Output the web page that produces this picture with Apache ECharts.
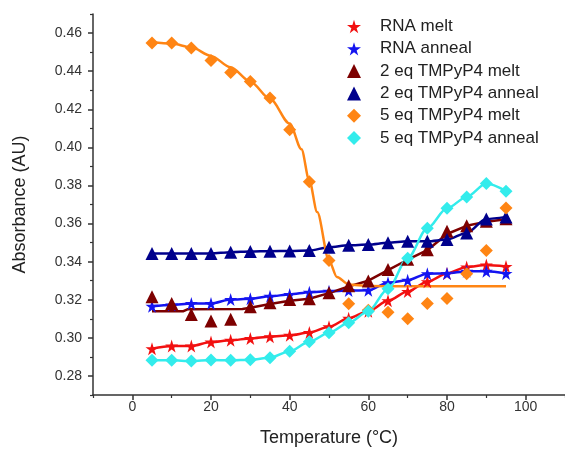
<!DOCTYPE html>
<html>
<head>
<meta charset="utf-8">
<script src="https://cdn.jsdelivr.net/npm/echarts@6/dist/echarts.min.js"></script>
<style>html,body{margin:0;padding:0;background:#fff}#c{width:565px;height:452px}</style>
</head>
<body>
<div id="c"></div>
<script>
const temps = [5,10,15,20,25,30,35,40,45,50,55,60,65,70,75,80,85,90,95];
const rnaMelt = [0.2943,0.2957,0.2957,0.2978,0.2987,0.2997,0.3006,0.3013,0.3028,0.3058,0.3103,0.3140,0.3195,0.3243,0.3295,0.3338,0.3372,0.3383,0.3375];
const rnaAnneal = [0.3166,0.3172,0.3180,0.3180,0.3201,0.3205,0.3218,0.3228,0.3240,0.3245,0.3248,0.3250,0.3289,0.3303,0.3337,0.3338,0.3350,0.3350,0.3338];
const eq2Melt = [0.3216,0.3180,0.3123,0.3088,0.3097,0.3163,0.3184,0.3201,0.3205,0.3237,0.3273,0.3299,0.3359,0.3413,0.3462,0.3560,0.3589,0.3612,0.3625];
const eq2Anneal = [0.3443,0.3443,0.3443,0.3443,0.3450,0.3453,0.3455,0.3456,0.3458,0.3476,0.3486,0.3490,0.3499,0.3507,0.3507,0.3516,0.3551,0.3624,0.3635];
const eq5Melt = [0.4548,0.4548,0.4521,0.4456,0.4393,0.4346,0.4259,0.4093,0.3819,0.3406,0.3179,0.3145,0.3135,0.3100,0.3180,0.3207,0.3337,0.3458,0.3682];
const eq5Anneal = [0.2882,0.2882,0.2878,0.2884,0.2882,0.2885,0.2896,0.2930,0.2980,0.3027,0.3079,0.3140,0.3258,0.3418,0.3575,0.3680,0.3740,0.3810,0.3770];

const eq2MeltFitT = [5,13,14,28,30,35,40,45,50,55,60,65,70,75,80,85,90,95];
const eq2MeltFit = [0.3140,0.3140,0.3150,0.3152,0.3158,0.3178,0.3195,0.3205,0.3235,0.3270,0.3300,0.3355,0.3410,0.3460,0.3545,0.3588,0.3610,0.3622];
const eq5MeltFitT = [5,10,15,20,25,30,35,40,43,45,47,50,52,55,60,70,80,95];
const eq5MeltFit = [0.4552,0.4545,0.4525,0.4480,0.4420,0.4345,0.4255,0.4125,0.3990,0.3825,0.3660,0.3406,0.3320,0.3280,0.3272,0.3271,0.3271,0.3271];

const seriesNames = ['RNA melt','RNA anneal','2 eq TMPyP4 melt','2 eq TMPyP4 anneal','5 eq TMPyP4 melt','5 eq TMPyP4 anneal'];
const yMajor = [0.28,0.30,0.32,0.34,0.36,0.38,0.40,0.42,0.44,0.46];
const yMinor = [0.27,0.29,0.31,0.33,0.35,0.37,0.39,0.41,0.43,0.45,0.47];
const xMajor = [0,20,40,60,80,100];
const xMinor = [-10,10,30,50,70,90,110];

const STAR = 'path://M50,0 L61,35 L98,35 L68,57 L79,91 L50,70 L21,91 L32,57 L2,35 L39,35 Z';
const colors = ['#f21010','#1414f0','#7d0000','#00008c','#ff8514','#33ecec'];
const symbols = [STAR, STAR, 'triangle','triangle','diamond','diamond'];
const sizes = [13,13,13,13,13,13];
const values = [rnaMelt, rnaAnneal, eq2Melt, eq2Anneal, eq5Melt, eq5Anneal];

const pair = (xs, ys) => xs.map((x,i)=>[x, ys[i]]);
const FONT = 'Arial, "Liberation Sans", sans-serif';

const series = [];
const fitData = [
  pair(temps, rnaMelt),
  pair(temps, rnaAnneal),
  pair(eq2MeltFitT, eq2MeltFit),
  pair(temps, eq2Anneal),
  pair(eq5MeltFitT, eq5MeltFit),
  pair(temps, eq5Anneal)
];
fitData.forEach((d,i)=>{
  series.push({
    name: seriesNames[i] + ' fit', type:'line', data:d, showSymbol:false, symbol:'none',
    smooth: i===2 ? false : 0.3, smoothMonotone: 'x',
    lineStyle:{color:colors[i], width:2.5}, z:2, silent:true
  });
});
values.forEach((v,i)=>{
  series.push({
    name: seriesNames[i], type:'scatter', data: pair(temps, v),
    symbol: symbols[i], symbolSize: sizes[i],
    itemStyle:{color:colors[i], opacity:1}, z:3
  });
});

const chart = echarts.init(document.getElementById('c'), null, {renderer:'canvas'});
chart.setOption({
  animation:false,
  backgroundColor:'#fff',
  grid:{left:93, right:0, top:14, bottom:56},
  legend:{
    orient:'vertical', left:347, top:18, padding:0, itemGap:5.3,
    itemWidth:14, itemHeight:14,
    textStyle:{fontFamily:FONT, fontSize:17, color:'#222', lineHeight:17, padding:[0,0,0,14]},
    data: seriesNames.map((n,i)=>({name:n, icon:symbols[i], itemStyle:{color:colors[i], opacity:1}}))
  },
  xAxis:[{
    type:'value', min:-10, max:110,
    name:'Temperature (°C)', nameLocation:'middle', nameGap:34,
    nameTextStyle:{fontFamily:FONT, fontSize:18, color:'#222'},
    axisLine:{show:true, onZero:false, lineStyle:{color:'#333', width:1.5}},
    axisTick:{show:true, length:5, customValues:xMajor, lineStyle:{color:'#333', width:1.5}},
    axisLabel:{customValues:xMajor, margin:5, fontFamily:FONT, fontSize:14, color:'#333'},
    splitLine:{show:false}
  },{
    type:'value', min:-10, max:110, position:'bottom', offset:0,
    axisLine:{show:false, onZero:false},
    axisTick:{show:true, length:3, customValues:xMinor, lineStyle:{color:'#333', width:1.2}},
    axisLabel:{show:false}, splitLine:{show:false}
  }],
  yAxis:[{
    type:'value', min:0.27, max:0.47,
    name:'Absorbance (AU)', nameLocation:'middle', nameGap:64,
    nameTextStyle:{fontFamily:FONT, fontSize:18, color:'#222'},
    axisLine:{show:true, onZero:false, lineStyle:{color:'#333', width:1.5}},
    axisTick:{show:true, length:5, customValues:yMajor, lineStyle:{color:'#333', width:1.5}},
    axisLabel:{customValues:yMajor, margin:11, fontFamily:FONT, fontSize:14, color:'#333',
      formatter:(v)=>v.toFixed(2)},
    splitLine:{show:false}
  },{
    type:'value', min:0.27, max:0.47, position:'left', offset:0,
    axisLine:{show:false, onZero:false},
    axisTick:{show:true, length:3, customValues:yMinor, lineStyle:{color:'#333', width:1.2}},
    axisLabel:{show:false}, splitLine:{show:false}
  }],
  series: series
});
</script>
</body>
</html>
